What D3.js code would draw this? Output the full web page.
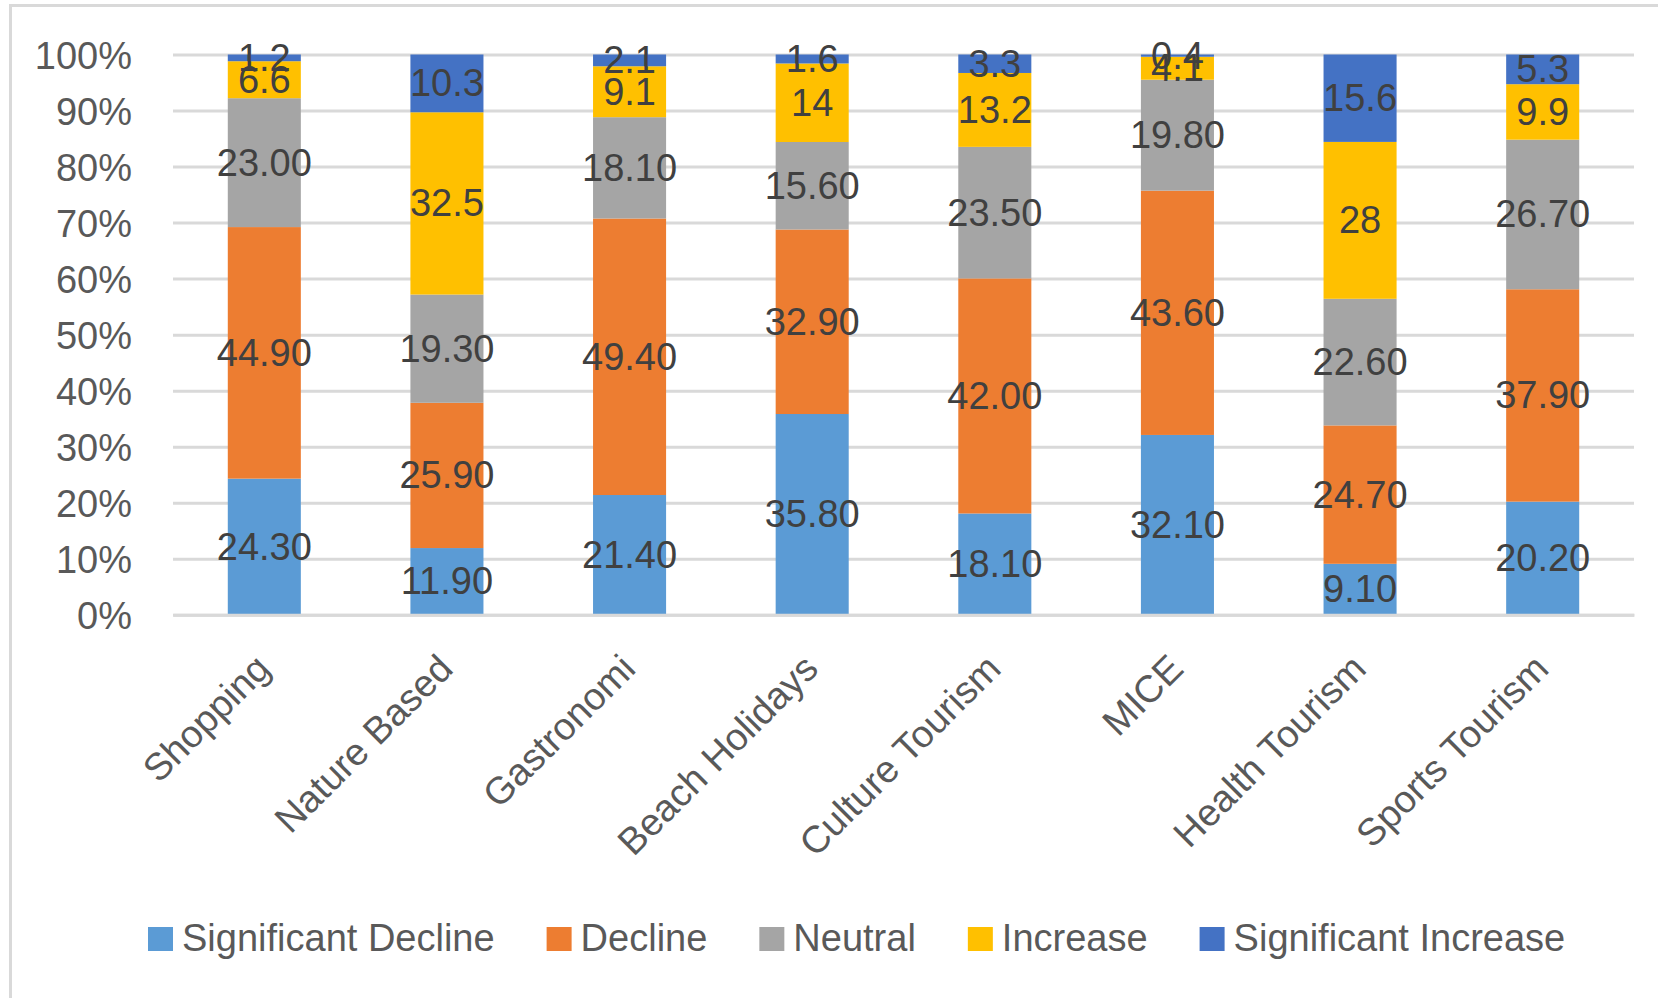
<!DOCTYPE html>
<html>
<head>
<meta charset="utf-8">
<script src="https://cdn.jsdelivr.net/npm/d3@7"></script>
<style>
  html, body { margin: 0; padding: 0; background: #ffffff; }
  svg { display: block; }
  text { font-family: "Liberation Sans", Arial, sans-serif; }
</style>
</head>
<body>
<svg id="chart" width="1658" height="998"></svg>
<script>
// Tourism segments and the share of answers in each outlook class
const categories = ["Shopping", "Nature Based", "Gastronomi", "Beach Holidays",
  "Culture Tourism", "MICE", "Health Tourism", "Sports Tourism"];
const seriesNames = ["Significant Decline", "Decline", "Neutral", "Increase", "Significant Increase"];

const significantDecline  = [24.30, 11.90, 21.40, 35.80, 18.10, 32.10, 9.10, 20.20];
const decline             = [44.90, 25.90, 49.40, 32.90, 42.00, 43.60, 24.70, 37.90];
const neutral             = [23.00, 19.30, 18.10, 15.60, 23.50, 19.80, 22.60, 26.70];
const increase            = [6.6, 32.5, 9.1, 14, 13.2, 4.1, 28, 9.9];
const significantIncrease = [1.2, 10.3, 2.1, 1.6, 3.3, 0.4, 15.6, 5.3];

const yTicks = [0, 0.1, 0.2, 0.3, 0.4, 0.5, 0.6, 0.7, 0.8, 0.9, 1.0];

const seriesValues = [significantDecline, decline, neutral, increase, significantIncrease];
const seriesColors = ["#5B9BD5", "#ED7D31", "#A5A5A5", "#FFC000", "#4472C4"];
// first three series are labelled with two decimals, the others as entered
const labelFormats = [d3.format(".2f"), d3.format(".2f"), d3.format(".2f"), v => String(v), v => String(v)];

// rows for the stack layout
const rows = categories.map((c, i) => {
  const r = { category: c };
  seriesNames.forEach((s, k) => { r[s] = seriesValues[k][i]; });
  return r;
});

const stacked = d3.stack().keys(seriesNames).offset(d3.stackOffsetExpand)(rows);

const svg = d3.select("#chart");
const W = 1658, H = 998;
const plot = { left: 173, right: 1634, top: 54.5, bottom: 614.8 };
const FONT = 38;
const axisGrey = "#595959";
const labelGrey = "#404040";
const lineGrey = "#D9D9D9";

// chart area frame
svg.append("rect")
  .attr("x", 10.5).attr("y", 5.5)
  .attr("width", W + 20).attr("height", H + 20)
  .attr("fill", "#ffffff")
  .attr("stroke", lineGrey).attr("stroke-width", 3);

const x = d3.scaleBand()
  .domain(categories)
  .range([plot.left, plot.right])
  .paddingInner(0.6)
  .paddingOuter(0.3);

const y = d3.scaleLinear().domain([0, 1]).range([plot.bottom, plot.top]);

// gridlines and percentage labels
const yAxis = d3.axisLeft(y)
  .tickValues(yTicks)
  .tickFormat(d3.format(".0%"))
  .tickSize(-(plot.right - plot.left))
  .tickPadding(41);

const gy = svg.append("g")
  .attr("transform", `translate(${plot.left},0)`)
  .call(yAxis);
gy.select(".domain").remove();
gy.selectAll(".tick line").attr("stroke", lineGrey).attr("stroke-width", 3);
gy.selectAll(".tick text")
  .attr("fill", axisGrey)
  .attr("font-size", FONT)
  .attr("font-family", "Liberation Sans, Arial, sans-serif")
  .attr("dy", "0.36em");

// stacked bars
const layers = svg.append("g").selectAll("g")
  .data(stacked)
  .join("g")
  .attr("fill", (d, i) => seriesColors[i]);

layers.selectAll("rect")
  .data(d => d)
  .join("rect")
  .attr("x", d => x(d.data.category))
  .attr("width", x.bandwidth())
  .attr("y", d => y(d[1]))
  .attr("height", d => y(d[0]) - y(d[1]));

// category axis with rotated labels
const xAxis = d3.axisBottom(x).tickSize(0).tickFormat("");
const gx = svg.append("g")
  .attr("transform", `translate(0,${plot.bottom})`)
  .call(xAxis);
gx.select(".domain").attr("stroke", lineGrey).attr("stroke-width", 3);

svg.append("g").selectAll("text")
  .data(categories)
  .join("text")
  .attr("transform", d => `translate(${x(d) + x.bandwidth() / 2 + 8},${plot.bottom + 56}) rotate(-45)`)
  .attr("text-anchor", "end")
  .attr("fill", axisGrey)
  .attr("font-size", FONT)
  .text(d => d);

// value labels centred in each segment
const labelLayer = svg.append("g");
stacked.forEach((layer, k) => {
  labelLayer.append("g").selectAll("text")
    .data(layer)
    .join("text")
    .attr("x", d => x(d.data.category) + x.bandwidth() / 2)
    .attr("y", d => (y(d[0]) + y(d[1])) / 2)
    .attr("dy", "0.34em")
    .attr("text-anchor", "middle")
    .attr("fill", labelGrey)
    .attr("font-size", FONT)
    .text(d => labelFormats[k](d.data[layer.key]));
});

// legend along the bottom
const legend = svg.append("g").attr("transform", "translate(148,927)");
let lx = 0;
seriesNames.forEach((name, k) => {
  const item = legend.append("g").attr("transform", `translate(${lx},0)`);
  item.append("rect")
    .attr("width", 25).attr("height", 24)
    .attr("fill", seriesColors[k]);
  const t = item.append("text")
    .attr("x", 34).attr("y", 24)
    .attr("fill", axisGrey)
    .attr("font-size", FONT)
    .text(name);
  lx += 34 + t.node().getComputedTextLength() + 52;
});
</script>
</body>
</html>
